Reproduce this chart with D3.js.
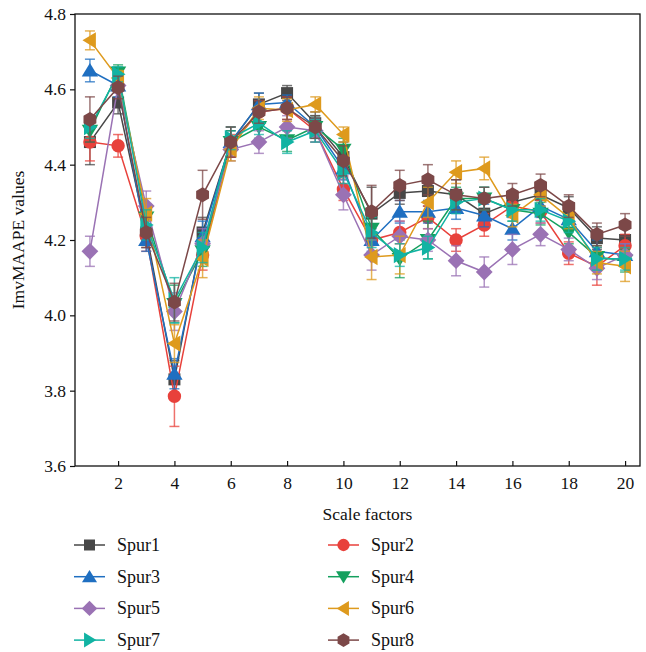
<!DOCTYPE html>
<html><head><meta charset="utf-8">
<script src="https://cdn.jsdelivr.net/npm/d3@7"></script>
<style>body{margin:0;background:#fff}svg{display:block}</style>
</head><body><svg id="c" width="646" height="652"></svg>
<script>
const scales = [1,2,3,4,5,6,7,8,9,10,11,12,13,14,15,16,17,18,19,20];
const seriesNames = ["Spur1","Spur2","Spur3","Spur4","Spur5","Spur6","Spur7","Spur8"];
const spur1 = [4.46,4.565,4.22,3.83,4.22,4.46,4.56,4.59,4.51,4.42,4.27,4.325,4.33,4.32,4.27,4.30,4.32,4.285,4.205,4.20];
const spur2 = [4.46,4.45,4.21,3.785,4.16,4.45,4.54,4.55,4.49,4.335,4.20,4.22,4.26,4.20,4.24,4.29,4.275,4.165,4.13,4.185];
const spur3 = [4.65,4.61,4.20,3.845,4.21,4.46,4.56,4.565,4.50,4.39,4.20,4.275,4.275,4.285,4.265,4.23,4.29,4.255,4.17,4.16];
const spur4 = [4.49,4.645,4.26,4.03,4.17,4.46,4.50,4.465,4.50,4.44,4.23,4.15,4.20,4.31,4.31,4.28,4.27,4.22,4.155,4.145];
const spur5 = [4.17,4.61,4.29,4.01,4.19,4.44,4.46,4.50,4.49,4.32,4.16,4.21,4.20,4.145,4.115,4.175,4.215,4.175,4.125,4.16];
const spur6 = [4.73,4.63,4.27,3.925,4.15,4.44,4.55,4.545,4.56,4.48,4.155,4.16,4.30,4.38,4.39,4.265,4.32,4.26,4.14,4.13];
const spur7 = [4.50,4.64,4.24,4.04,4.18,4.47,4.51,4.46,4.49,4.38,4.22,4.16,4.18,4.30,4.31,4.28,4.28,4.25,4.15,4.15];
const spur8 = [4.52,4.605,4.22,4.035,4.32,4.46,4.54,4.55,4.50,4.41,4.275,4.345,4.36,4.32,4.31,4.32,4.345,4.29,4.215,4.24];
const err1 = [0.06,0.03,0.04,0.05,0.04,0.04,0.03,0.02,0.03,0.04,0.07,0.03,0.04,0.04,0.03,0.03,0.03,0.03,0.03,0.03];
const err2 = [0.05,0.03,0.04,0.08,0.04,0.03,0.03,0.03,0.03,0.03,0.04,0.03,0.03,0.03,0.03,0.03,0.03,0.03,0.05,0.03];
const err3 = [0.03,0.03,0.03,0.04,0.04,0.03,0.03,0.02,0.03,0.03,0.03,0.03,0.03,0.03,0.03,0.03,0.03,0.03,0.03,0.03];
const err4 = [0.03,0.02,0.03,0.05,0.04,0.03,0.03,0.03,0.03,0.03,0.03,0.05,0.05,0.03,0.03,0.03,0.03,0.03,0.03,0.03];
const err5 = [0.04,0.02,0.04,0.05,0.04,0.03,0.03,0.03,0.03,0.04,0.04,0.04,0.03,0.04,0.04,0.04,0.03,0.03,0.03,0.03];
const err6 = [0.025,0.02,0.04,0.05,0.05,0.03,0.03,0.03,0.02,0.02,0.06,0.05,0.04,0.03,0.03,0.03,0.03,0.03,0.03,0.04];
const err7 = [0.03,0.02,0.04,0.06,0.04,0.03,0.03,0.03,0.03,0.03,0.04,0.03,0.03,0.03,0.03,0.03,0.03,0.03,0.03,0.03];
const err8 = [0.06,0.03,0.04,0.05,0.065,0.04,0.03,0.03,0.03,0.04,0.07,0.04,0.04,0.04,0.03,0.03,0.03,0.03,0.03,0.03];
const colors = ["#474747","#e8413b","#1f6fc1","#14a05e","#9a72b4","#de9a1d","#11b3a3","#7c4848"];
const shapes = ["square","circle","triangle","triangleDown","diamond","triangleLeft","triangleRight","hexagon"];
const xTicks = [2,4,6,8,10,12,14,16,18,20];
const yTicks = [3.6,3.8,4.0,4.2,4.4,4.6,4.8];

const FONT = "'Liberation Serif', 'DejaVu Serif', serif";
const values = [spur1,spur2,spur3,spur4,spur5,spur6,spur7,spur8];
const errs = [err1,err2,err3,err4,err5,err6,err7,err8];
const series = seriesNames.map((n,i)=>({name:n,color:colors[i],shape:shapes[i],pts:scales.map((s,j)=>({x:s,y:values[i][j],e:errs[i][j]}))}));

const svg = d3.select("#c").style("font-family",FONT);
const L=75,R=640,T=14,B=466;
const x = d3.scaleLinear().domain([0.47,20.53]).range([L,R]);
const y = d3.scaleLinear().domain([3.6,4.8]).range([B,T]);

function markerPath(shape, s){
  const p = d3.path();
  if(shape==="square"){p.rect(-s/2,-s/2,s,s);}
  else if(shape==="circle"){p.arc(0,0,s*0.56,0,2*Math.PI);}
  else if(shape==="triangle"){const h=s*0.62;p.moveTo(0,-h);p.lineTo(h*1.1,h*0.8);p.lineTo(-h*1.1,h*0.8);p.closePath();}
  else if(shape==="triangleDown"){const h=s*0.62;p.moveTo(0,h);p.lineTo(h*1.1,-h*0.8);p.lineTo(-h*1.1,-h*0.8);p.closePath();}
  else if(shape==="triangleLeft"){const h=s*0.62;p.moveTo(-h,0);p.lineTo(h*0.8,-h*1.1);p.lineTo(h*0.8,h*1.1);p.closePath();}
  else if(shape==="triangleRight"){const h=s*0.62;p.moveTo(h,0);p.lineTo(-h*0.8,-h*1.1);p.lineTo(-h*0.8,h*1.1);p.closePath();}
  else if(shape==="diamond"){const h=s*0.7;p.moveTo(0,-h);p.lineTo(h,0);p.lineTo(0,h);p.lineTo(-h,0);p.closePath();}
  else if(shape==="hexagon"){const r=s*0.62;for(let k=0;k<6;k++){const a=Math.PI/6+k*Math.PI/3;const px=r*Math.cos(a),py=r*Math.sin(a);k?p.lineTo(px,py):p.moveTo(px,py);}p.closePath();}
  return p.toString();
}

// axes
const gx = svg.append("g").attr("transform",`translate(0,${B})`)
  .call(d3.axisBottom(x).tickValues(xTicks).tickSize(-5).tickPadding(11).tickFormat(d3.format("d")));
const gy = svg.append("g").attr("transform",`translate(${L},0)`)
  .call(d3.axisLeft(y).tickValues(yTicks).tickSize(5).tickPadding(4).tickFormat(d3.format(".1f")));
[gx,gy].forEach(g=>{g.attr("font-family",FONT).attr("font-size",17);g.select(".domain").remove();g.selectAll("line").attr("stroke","#111").attr("stroke-width",1.2);g.selectAll("text").attr("fill","#111").style("font-family",FONT).style("font-size","17.5px");});
svg.append("rect").attr("x",L).attr("y",T).attr("width",R-L).attr("height",B-T).attr("fill","none").attr("stroke","#111").attr("stroke-width",1.3);

svg.append("text").attr("x",(L+R)/2+10).attr("y",520).attr("text-anchor","middle").style("font-family",FONT).style("font-size","17.5px").attr("fill","#111").text("Scale factors");
svg.append("text").attr("transform",`translate(24,${(T+B)/2}) rotate(-90)`).attr("text-anchor","middle").style("font-family",FONT).style("font-size","17.5px").attr("fill","#111").text("ImvMAAPE values");

const line = d3.line().x(d=>x(d.x)).y(d=>y(d.y));
const plot = svg.append("g");
series.forEach(s=>{
  const g = plot.append("g");
  g.append("path").datum(s.pts).attr("d",line).attr("fill","none").attr("stroke",s.color).attr("stroke-width",1.5);
  const eb = g.selectAll(".eb").data(s.pts).join("g").attr("stroke",s.color).attr("stroke-opacity",0.75).attr("stroke-width",1.5);
  eb.append("line").attr("x1",d=>x(d.x)).attr("x2",d=>x(d.x)).attr("y1",d=>y(d.y+d.e)).attr("y2",d=>y(d.y-d.e));
  eb.append("line").attr("x1",d=>x(d.x)-5).attr("x2",d=>x(d.x)+5).attr("y1",d=>y(d.y+d.e)).attr("y2",d=>y(d.y+d.e));
  eb.append("line").attr("x1",d=>x(d.x)-5).attr("x2",d=>x(d.x)+5).attr("y1",d=>y(d.y-d.e)).attr("y2",d=>y(d.y-d.e));
  g.selectAll(".m").data(s.pts).join("path").attr("transform",d=>`translate(${x(d.x)},${y(d.y)})`)
    .attr("d",markerPath(s.shape,12)).attr("fill",s.color);
});

// legend
const leg = svg.append("g");
series.forEach((s,i)=>{
  const col=i%2,row=Math.floor(i/2);
  const lx = col? 328:74, ly = 545+row*31.7;
  const g = leg.append("g").attr("transform",`translate(${lx},${ly})`);
  g.append("line").attr("x1",0).attr("x2",31).attr("y1",0).attr("y2",0).attr("stroke",s.color).attr("stroke-width",1.5);
  g.append("path").attr("transform","translate(15.5,0)").attr("d",markerPath(s.shape,11)).attr("fill",s.color);
  g.append("text").attr("x",43).attr("y",6).style("font-family",FONT).style("font-size","18px").attr("fill","#111").text(s.name);
});
</script></body></html>
